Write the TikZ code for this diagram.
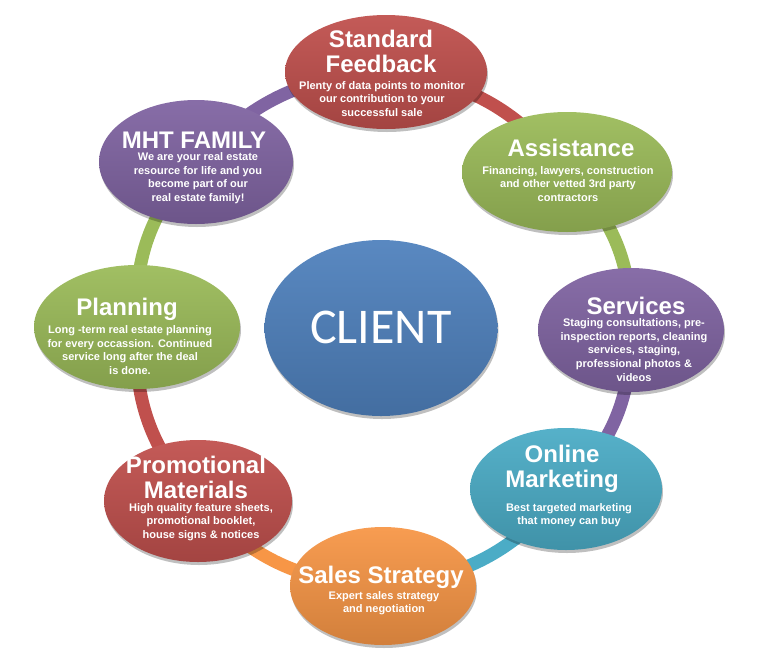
\documentclass[tikz,border=0pt]{standalone}
\usepackage{fontspec}
\setmainfont{Liberation Sans}
\newfontfamily\clientfont{Carlito}
\usetikzlibrary{shapes.geometric,shadows,backgrounds}
\definecolor{cred}{RGB}{192,80,77}
\definecolor{cgreen}{RGB}{155,187,89}
\definecolor{cpurple}{RGB}{128,100,162}
\definecolor{cteal}{RGB}{75,172,198}
\definecolor{corange}{RGB}{247,150,70}
\definecolor{cblue}{RGB}{79,129,189}
\begin{document}
\begin{tikzpicture}[x=1pt,y=-1pt,
  bub/.style={ellipse, inner sep=0pt, draw=none,
    top color=#1!94!white, bottom color=#1!85!black,
    drop shadow={shadow xshift=1pt, shadow yshift=-3pt, opacity=0.25, fill=black}},
  ttl/.style={text=white, align=center, inner sep=0pt, font=\bfseries\fontsize{24}{25}\selectfont},
  sub/.style={text=white, align=center, inner sep=0pt, font=\bfseries\fontsize{11}{13.6}\selectfont},
  ring/.style={line width=13pt, draw=#1, bend left=22.5},
]
\useasboundingbox (0,0) rectangle (782,670);

% bubbles
\node[bub=cred,    minimum width=202, minimum height=114] (sf) at (386,72) {};
\node[bub=cgreen,  minimum width=210, minimum height=120] (as) at (567,172) {};
\node[bub=cpurple, minimum width=186, minimum height=124] (sv) at (631,330) {};
\node[bub=cteal,   minimum width=192, minimum height=122] (om) at (566,489) {};
\node[bub=corange, minimum width=186, minimum height=118] (ss) at (383,586) {};
\node[bub=cred,    minimum width=188, minimum height=122] (pm) at (198,501) {};
\node[bub=cgreen,  minimum width=206, minimum height=124] (pl) at (137,327) {};
\node[bub=cpurple, minimum width=194, minimum height=124] (mh) at (196,162) {};
\node[bub=cblue,   minimum width=233, minimum height=176] (cl) at (381,328) {};

% ring segments
\begin{scope}[on background layer]
\draw[ring=cred]    (sf.center) to (as.center);
\draw[ring=cgreen]  (as.center) to (sv.center);
\draw[ring=cpurple] (sv.center) to (om.center);
\draw[ring=cteal]   (om.center) to (ss.center);
\draw[ring=corange] (ss.center) to (pm.center);
\draw[ring=cred]    (pm.center) to (pl.center);
\draw[ring=cgreen]  (pl.center) to (mh.center);
\draw[ring=cpurple] (mh.center) to (sf.center);
\end{scope}

% texts
\node[text=white, inner sep=0pt, font=\clientfont\fontsize{50}{50}\selectfont] (cl-t) at (381,327) {CLIENT};

\node[ttl] (sf-t) at (381,51) {Standard\\Feedback};
\node[sub] (sf-s) at (382,99) {Plenty of data points to monitor\\our contribution to your\\successful sale};

\node[ttl] (as-t) at (571,148) {Assistance};
\node[sub] (as-s) at (568,184) {Financing, lawyers, construction\\and other vetted 3rd party\\contractors};

\node[ttl] (sv-t) at (636,306) {Services};
\node[sub] (sv-s) at (634,350) {Staging consultations, pre-\\inspection reports, cleaning\\services, staging,\\professional photos \&\\videos};

\node[ttl] (om-t) at (562,469) {Online\\Marketing};
\node[sub] (om-s) at (569,515) {Best targeted marketing\\that money can buy};

\node[ttl] (ss-t) at (381,577) {Sales Strategy};
\node[sub] (ss-s) at (384,603) {Expert sales strategy\\and negotiation};

\node[ttl] (pm-t) at (196,477) {Promotional\\Materials};
\node[sub] (pm-s) at (201,522) {High quality feature sheets,\\promotional booklet,\\house signs \& notices};

\node[ttl] (pl-t) at (127,309) {Planning};
\node[sub] (pl-s) at (130,350) {Long -term real estate planning\\for every occassion. Continued\\service long after the deal\\is done.};

\node[ttl] (mh-t) at (194,140) {MHT FAMILY};
\node[sub] (mh-s) at (198,178) {We are your real estate\\resource for life and you\\become part of our\\real estate family!};
\end{tikzpicture}
\end{document}
